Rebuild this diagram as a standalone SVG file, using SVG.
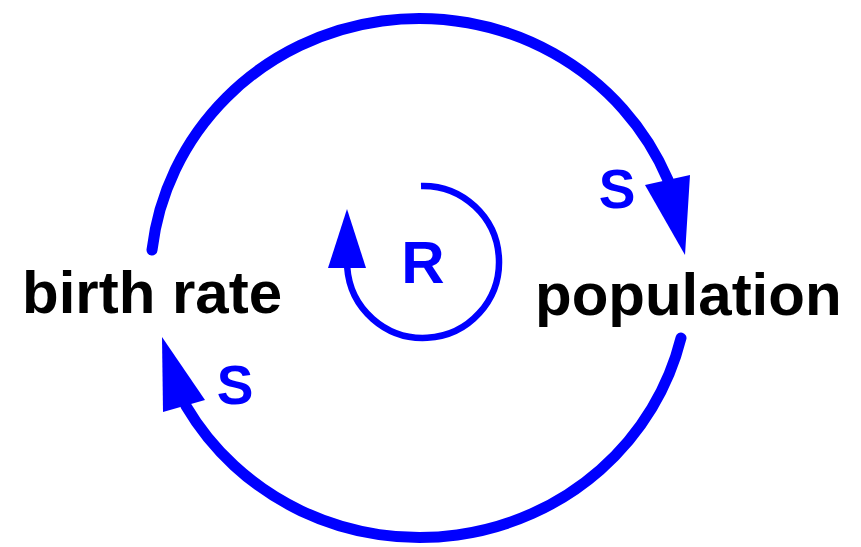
<svg xmlns="http://www.w3.org/2000/svg" width="861" height="547" viewBox="0 0 861 547">
  <style>
    .link { fill: none; stroke: #0000ff; stroke-width: 11; stroke-linecap: round; }
    .loop { fill: none; stroke: #0000ff; stroke-width: 6.5; stroke-linecap: butt; }
    .head { fill: #0000ff; stroke: none; }
    .node { font-family: "Liberation Sans", Arial, sans-serif; font-weight: bold; font-size: 60px; fill: #000000; }
    .pol { font-family: "Liberation Sans", Arial, sans-serif; font-weight: bold; font-size: 55px; fill: #0000ff; text-anchor: middle; }
    .rl { font-family: "Liberation Sans", Arial, sans-serif; font-weight: bold; font-size: 60px; fill: #0000ff; text-anchor: middle; }
  </style>
  <rect width="861" height="547" fill="#ffffff"/>
  <g id="connectors">
    <g id="birthrate-to-population">
      <path class="link" d="M 152 250 A 269 261 0 0 1 668 180"/>
      <polygon class="head" points="645,185 690,175 685,255"/>
      <text class="pol" x="617" y="208">S</text>
    </g>
    <g id="population-to-birthrate">
      <path class="link" d="M 681 338 A 269 261 0 0 1 186 406"/>
      <polygon class="head" points="163,412 205,400 162,337"/>
      <text class="pol" x="235" y="404">S</text>
    </g>
  </g>
  <g id="loop-R">
    <path class="loop" d="M 421 186 A 76 76 0 1 1 347.2 267.3"/>
    <polygon class="head" points="328,268 366,268 347,209"/>
    <text class="rl" x="423" y="283">R</text>
  </g>
  <g id="birth-rate">
    <text class="node" x="22" y="313">birth rate</text>
  </g>
  <g id="population">
    <text class="node" x="535" y="315">population</text>
  </g>
</svg>
